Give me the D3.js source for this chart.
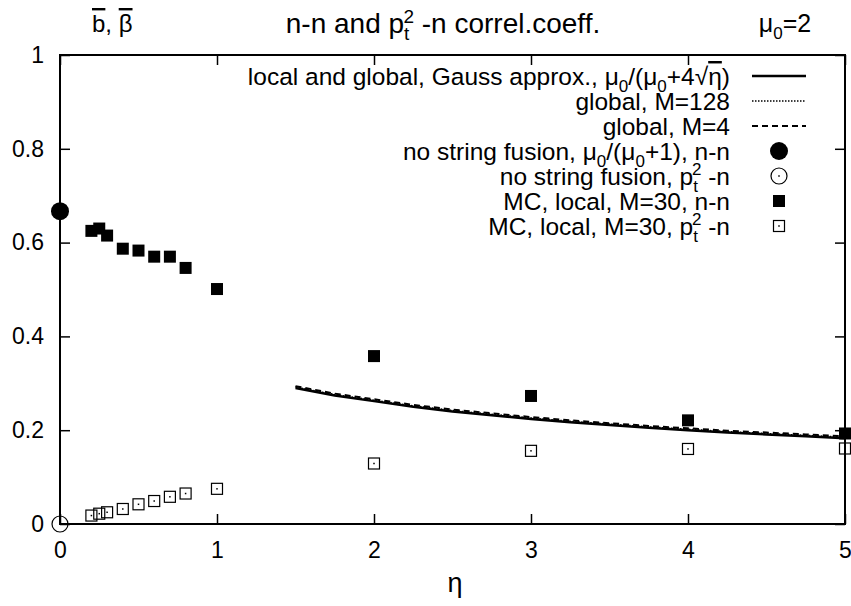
<!DOCTYPE html>
<html><head><meta charset="utf-8">
<script src="https://cdn.jsdelivr.net/npm/d3@7"></script>
<style>body{margin:0;background:#fff}svg{display:block}text{font-family:"Liberation Sans",Arial,sans-serif;fill:#000}</style>
</head><body><svg id="c" width="851" height="606"></svg>
<script>
// ---- data ----
const xTickVals = [0,1,2,3,4,5];
const xTickLabels = ["0","1","2","3","4","5"];
const yTickVals = [0,0.2,0.4,0.6,0.8,1];
const yTickLabels = ["0","0.2","0.4","0.6","0.8","1"];

const mcEta = [0.2,0.25,0.3,0.4,0.5,0.6,0.7,0.8,1,2,3,4,5];
const mcNN  = [0.625,0.630,0.615,0.587,0.583,0.570,0.570,0.546,0.501,0.358,0.273,0.221,0.193];
const mcPtN = [0.018,0.022,0.025,0.032,0.042,0.049,0.058,0.065,0.075,0.129,0.156,0.160,0.161];

const noFusionEta = [0];
const noFusionNN = [0.667];
const noFusionPtN = [0];

const curveEta   = [1.5,1.75,2,2.25,2.5,2.75,3,3.25,3.5,3.75,4,4.25,4.5,4.75,5];
const gaussVals  = [0.290,0.274,0.262,0.250,0.240,0.232,0.224,0.217,0.211,0.205,0.200,0.195,0.191,0.187,0.183];
const globalM128 = [0.292,0.276,0.264,0.252,0.242,0.234,0.226,0.219,0.213,0.207,0.202,0.197,0.193,0.189,0.185];
const globalM4   = [0.294,0.278,0.266,0.254,0.244,0.236,0.228,0.221,0.215,0.209,0.204,0.199,0.195,0.191,0.187];

// ---- chart ----
const svg = d3.select("#c");
const x = d3.scaleLinear().domain([0,5]).range([60,845]);
const y = d3.scaleLinear().domain([0,1]).range([524,55]);
const FS = 24.5, TFS = 23, HFS = 28;

const gx = svg.append("g").attr("transform",`translate(0,${y(0)})`)
  .call(d3.axisBottom(x).tickValues(xTickVals).tickFormat((d,i)=>xTickLabels[i]).tickSize(-10).tickPadding(18));
const gxt = svg.append("g").attr("transform",`translate(0,${y(1)})`)
  .call(d3.axisTop(x).tickValues(xTickVals).tickFormat("").tickSize(-10));
const gy = svg.append("g").attr("transform",`translate(${x(0)},0)`)
  .call(d3.axisLeft(y).tickValues(yTickVals).tickFormat((d,i)=>yTickLabels[i]).tickSize(-10).tickPadding(16));
const gyr = svg.append("g").attr("transform",`translate(${x(5)},0)`)
  .call(d3.axisRight(y).tickValues(yTickVals).tickFormat("").tickSize(-10));
[gx,gxt,gy,gyr].forEach(g=>{
  g.select(".domain").remove();
  g.selectAll(".tick line").attr("stroke","#000").attr("stroke-width",1.5);
  g.selectAll("text").style("font-size",TFS+"px").style("font-family","Liberation Sans, Arial, sans-serif").attr("fill","#000");
});
svg.append("rect").attr("x",x(0)).attr("y",y(1)).attr("width",x(5)-x(0)).attr("height",y(0)-y(1))
  .attr("fill","none").attr("stroke","#000").attr("stroke-width",2);

// curves
const line = d3.line().x(d=>x(d[0])).y(d=>y(d[1]));
function curve(vals, dash, w){
  svg.append("path").datum(curveEta.map((e,i)=>[e,vals[i]])).attr("d",line)
    .attr("fill","none").attr("stroke","#000").attr("stroke-width",w).attr("stroke-dasharray",dash);
}
curve(globalM4,"6,4",2);
curve(globalM128,"1.5,1.5",1.5);
curve(gaussVals,null,2.5);

// markers
function fsq(cx,cy,s){svg.append("rect").attr("x",cx-s/2).attr("y",cy-s/2).attr("width",s).attr("height",s).attr("fill","#000");}
function osq(cx,cy,s){
  svg.append("rect").attr("x",cx-s/2).attr("y",cy-s/2).attr("width",s).attr("height",s).attr("fill","none").attr("stroke","#000").attr("stroke-width",1.2);
  svg.append("rect").attr("x",cx-0.75).attr("y",cy-0.75).attr("width",1.5).attr("height",1.5).attr("fill","#000");
}
function fci(cx,cy,r){svg.append("circle").attr("cx",cx).attr("cy",cy).attr("r",r).attr("fill","#000");}
function oci(cx,cy,r){
  svg.append("circle").attr("cx",cx).attr("cy",cy).attr("r",r).attr("fill","none").attr("stroke","#000").attr("stroke-width",1.2);
  svg.append("rect").attr("x",cx-0.75).attr("y",cy-0.75).attr("width",1.5).attr("height",1.5).attr("fill","#000");
}
mcEta.forEach((e,i)=>osq(x(e),y(mcPtN[i]),11));
mcEta.forEach((e,i)=>fsq(x(e),y(mcNN[i]),12));
noFusionEta.forEach((e,i)=>fci(x(e),y(noFusionNN[i]),9));
noFusionEta.forEach((e,i)=>oci(x(e),y(noFusionPtN[i]),8));

// text helpers
function rich(xp,yp,parts,anchor,fs){
  const t = svg.append("text").attr("x",xp).attr("y",yp).attr("text-anchor",anchor||"start").style("font-size",(fs||FS)+"px");
  parts.forEach(p=>{
    const ts = t.append("tspan").text(p.t);
    if(p.dy) ts.attr("dy",p.dy);
    if(p.dx) ts.attr("dx",p.dx);
    if(p.fs) ts.style("font-size",p.fs+"px");
    if(p.deco) ts.style("text-decoration",p.deco);
  });
  return t;
}
const S = 17;
const ptParts = (pre,post,s)=>[{t:pre},{t:"p"},{t:"t",fs:s||S,dy:7},{t:"2",fs:s||S,dx:-6,dy:-17},{t:" -n"+post,dy:10}];

// titles
rich(92,32,[{t:"b",deco:"overline"},{t:", "},{t:"\u03B2",deco:"overline"}],"start",24);
rich(443,33,ptParts("n-n and "," correl.coeff.",19),"middle",HFS);
rich(785,32,[{t:"\u03BC"},{t:"0",fs:S,dy:7},{t:"=2",dy:-7}],"middle",25);

// axis title
svg.append("text").attr("x",455).attr("y",592).attr("text-anchor","middle").style("font-size","27px").text("\u03B7");

// legend
const LX = 730, L0 = 85, LD = 25;
const legY = i => L0 + i*LD;
rich(LX,legY(0),[{t:"local and global, Gauss approx., \u03BC"},{t:"0",fs:S,dy:7},{t:"/(\u03BC",dy:-7},{t:"0",fs:S,dy:7},{t:"+4\u221A",dy:-7},{t:"\u03B7",deco:"overline"},{t:")"}],"end");
rich(LX,legY(1),[{t:"global, M=128"}],"end");
rich(LX,legY(2),[{t:"global, M=4"}],"end");
rich(LX,legY(3),[{t:"no string fusion, \u03BC"},{t:"0",fs:S,dy:7},{t:"/(\u03BC",dy:-7},{t:"0",fs:S,dy:7},{t:"+1), n-n",dy:-7}],"end");
rich(LX,legY(4),ptParts("no string fusion,  ",""),"end");
rich(LX,legY(5),[{t:"MC, local, M=30, n-n"}],"end");
rich(LX,legY(6),ptParts("MC, local, M=30, ",""),"end");
const lx0=752, lx1=806, sym=779, off=-9;
svg.append("line").attr("x1",lx0).attr("x2",lx1).attr("y1",legY(0)+off).attr("y2",legY(0)+off).attr("stroke","#000").attr("stroke-width",2.5);
svg.append("line").attr("x1",lx0).attr("x2",lx1).attr("y1",legY(1)+off).attr("y2",legY(1)+off).attr("stroke","#000").attr("stroke-width",1.5).attr("stroke-dasharray","1.5,1.5");
svg.append("line").attr("x1",lx0).attr("x2",lx1).attr("y1",legY(2)+off).attr("y2",legY(2)+off).attr("stroke","#000").attr("stroke-width",2).attr("stroke-dasharray","6,4");
fci(sym,legY(3)+off,9);
oci(sym,legY(4)+off,8);
fsq(sym,legY(5)+off,12);
osq(sym,legY(6)+off,11);
</script></body></html>
